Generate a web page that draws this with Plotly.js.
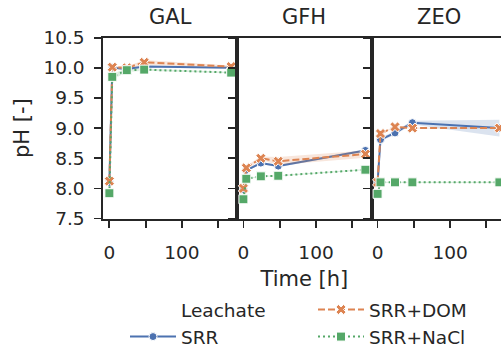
<!DOCTYPE html>
<html><head><meta charset="utf-8">
<script src="https://cdn.plot.ly/plotly-3.0.1.min.js"></script>
<style>html,body{margin:0;padding:0;background:#fff}#chart{width:501px;height:356px}</style>
</head><body><div id="chart"></div>
<script>
// ---- data ----
const time = [0, 4, 24, 48, 168];
const facets = ["GAL", "GFH", "ZEO"];
const seriesNames = ["SRR", "SRR+DOM", "SRR+NaCl"];
const legendTitle = "Leachate";

// GAL
const galSRR  = [8.10, 10.00, 9.98, 10.02, 10.00];
const galDOM  = [8.12, 10.01, 10.00, 10.09, 10.02];
const galNaCl = [7.92, 9.85, 9.96, 9.97, 9.92];
const galSRRlo  = [8.08, 9.99, 9.96, 10.00, 9.99];
const galSRRhi  = [8.12, 10.01, 10.00, 10.04, 10.01];
const galDOMlo  = [8.10, 9.99, 9.98, 10.05, 10.00];
const galDOMhi  = [8.14, 10.03, 10.02, 10.13, 10.04];
const galNaClLo = [7.90, 9.80, 9.93, 9.95, 9.91];
const galNaClHi = [7.94, 9.90, 9.99, 9.99, 9.93];
// GFH
const gfhSRR  = [7.98, 8.30, 8.42, 8.37, 8.63];
const gfhDOM  = [8.00, 8.34, 8.50, 8.45, 8.57];
const gfhNaCl = [7.82, 8.16, 8.20, 8.21, 8.31];
const gfhSRRlo  = [7.96, 8.28, 8.40, 8.35, 8.61];
const gfhSRRhi  = [8.00, 8.32, 8.44, 8.39, 8.65];
const gfhDOMlo  = [7.98, 8.31, 8.47, 8.39, 8.51];
const gfhDOMhi  = [8.02, 8.37, 8.53, 8.52, 8.63];
const gfhNaClLo = [7.81, 8.15, 8.19, 8.20, 8.30];
const gfhNaClHi = [7.83, 8.17, 8.21, 8.22, 8.32];
// ZEO
const zeoSRR  = [8.10, 8.81, 8.92, 9.09, 9.00];
const zeoDOM  = [8.10, 8.91, 9.02, 9.00, 9.00];
const zeoNaCl = [7.91, 8.10, 8.10, 8.10, 8.10];
const zeoSRRlo  = [8.08, 8.78, 8.89, 9.06, 8.86];
const zeoSRRhi  = [8.12, 8.84, 8.95, 9.12, 9.14];
const zeoDOMlo  = [8.08, 8.90, 9.01, 8.99, 8.99];
const zeoDOMhi  = [8.12, 8.92, 9.03, 9.01, 9.01];
const zeoNaClLo = [7.90, 8.09, 8.09, 8.09, 8.09];
const zeoNaClHi = [7.92, 8.11, 8.11, 8.11, 8.11];

const xTickVals = [0, 50, 100, 150];
const xTickText = ["0", "", "100", ""];
const yTickVals = [7.5, 8.0, 8.5, 9.0, 9.5, 10.0, 10.5];
const yTickText = ["7.5", "8.0", "8.5", "9.0", "9.5", "10.0", "10.5"];

// ---- styles ----
const colors = ["#4c72b0", "#dd8452", "#55a868"];
const bandColors = ["rgba(76,114,176,0.2)", "rgba(221,132,82,0.2)", "rgba(85,168,104,0.2)"];
const dashes = ["solid", "7px,3px", "2px,3px"];
const symbols = ["circle", "x", "square"];
const sizes = [8, 9, 9];
const ranks = [3, 2, 4];

const data = [
  [[galSRR, galSRRlo, galSRRhi], [galDOM, galDOMlo, galDOMhi], [galNaCl, galNaClLo, galNaClHi]],
  [[gfhSRR, gfhSRRlo, gfhSRRhi], [gfhDOM, gfhDOMlo, gfhDOMhi], [gfhNaCl, gfhNaClLo, gfhNaClHi]],
  [[zeoSRR, zeoSRRlo, zeoSRRhi], [zeoDOM, zeoDOMlo, zeoDOMhi], [zeoNaCl, zeoNaClLo, zeoNaClHi]]
];

const traces = [];
traces.push({x: [null], y: [null], type: "scatter", mode: "lines", name: legendTitle,
  line: {width: 0, color: "rgba(0,0,0,0)"}, showlegend: true, legendrank: 1, hoverinfo: "skip"});

facets.forEach((f, fi) => {
  const xa = fi === 0 ? "x" : "x" + (fi + 1);
  const ya = fi === 0 ? "y" : "y" + (fi + 1);
  seriesNames.forEach((s, si) => {
    const [vals, lo, hi] = data[fi][si];
    traces.push({
      x: time.concat(time.slice().reverse()),
      y: hi.concat(lo.slice().reverse()),
      type: "scatter", mode: "lines", fill: "toself",
      fillcolor: bandColors[si], line: {width: 0},
      xaxis: xa, yaxis: ya, showlegend: false, hoverinfo: "skip"
    });
    traces.push({
      x: time, y: vals, type: "scatter", mode: "lines+markers",
      name: s, legendgroup: s, showlegend: fi === 0, legendrank: ranks[si],
      line: {color: colors[si], width: 2, dash: dashes[si]},
      marker: {symbol: symbols[si], size: sizes[si], color: colors[si], line: {color: "#ffffff", width: 1}},
      xaxis: xa, yaxis: ya
    });
  });
});

const axisCommon = {
  showline: true, linecolor: "#262626", linewidth: 2,
  ticks: "outside", ticklen: 7, tickwidth: 1.8, tickcolor: "#262626",
  showgrid: false, zeroline: false, automargin: false,
  tickfont: {family: "DejaVu Sans", size: 18.5, color: "#262626"}
};
const W = 501, H = 356;
const xd = [[103.3 / W, 237.3 / W], [237.3 / W, 371.5 / W], [371.5 / W, 1]];
const yd = [(H - 222.3) / H, (H - 38.3) / H];
const xr = [[-8.4, 176.4], [-8.4, 176.4], [-8.4, 170.2]];

const layout = {
  width: W, height: H,
  margin: {l: 0, r: 0, t: 0, b: 0},
  paper_bgcolor: "#ffffff", plot_bgcolor: "#ffffff",
  font: {family: "DejaVu Sans", color: "#262626"},
  showlegend: true,
  legend: {
    orientation: "h", x: 1, xanchor: "right", y: (H - 296) / H, yanchor: "top",
    entrywidth: 127, entrywidthmode: "pixels", itemwidth: 46,
    font: {family: "DejaVu Sans", size: 18.5, color: "#262626"},
    bgcolor: "rgba(0,0,0,0)", traceorder: "normal"
  },
  annotations: facets.map((f, fi) => ({
    text: f, xref: "paper", x: (xd[fi][0] * W + 67) / W,
    yref: "paper", y: (H - 17) / H, xanchor: "center", yanchor: "middle", showarrow: false,
    font: {family: "DejaVu Sans", size: 21, color: "#262626"}
  }))
};

for (let i = 0; i < 3; i++) {
  const sx = i === 0 ? "" : String(i + 1);
  layout["xaxis" + sx] = Object.assign({}, axisCommon, {
    domain: xd[i], range: xr[i], anchor: "y" + sx, mirror: true,
    tickmode: "array", tickvals: xTickVals, ticktext: xTickText,
    ticklabelstandoff: 9,
    title: i === 1 ? {text: "Time [h]", font: {family: "DejaVu Sans", size: 21, color: "#262626"}, standoff: 10} : {text: ""}
  });
  layout["yaxis" + sx] = Object.assign({}, axisCommon, {
    domain: yd, range: [7.5, 10.5], anchor: "x" + sx, mirror: i < 2,
    tickmode: "array", tickvals: yTickVals, ticktext: yTickText,
    showticklabels: i === 0, ticklabelstandoff: 6,
    title: i === 0 ? {text: "pH [-]", font: {family: "DejaVu Sans", size: 21, color: "#262626"}, standoff: 8} : {text: ""}
  });
}

Plotly.newPlot("chart", traces, layout, {staticPlot: true, displayModeBar: false});
</script>
</body></html>
